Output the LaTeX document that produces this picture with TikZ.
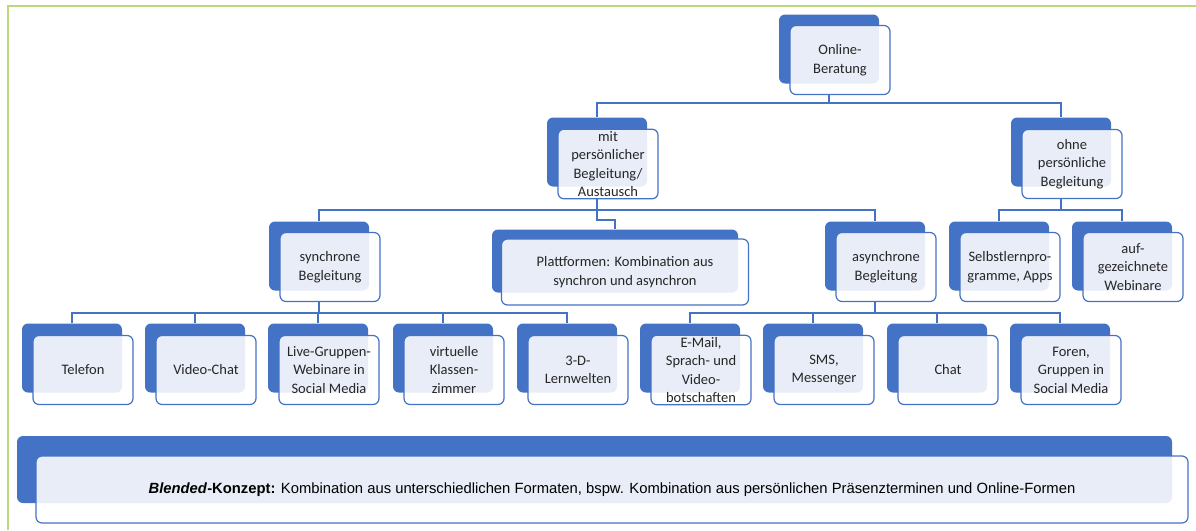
\documentclass[tikz,border=0pt]{standalone}
\usepackage{fontspec}
\setmainfont{Carlito}
\newfontfamily\blendfont{Liberation Sans}
\definecolor{orgblue}{RGB}{68,114,196}
\definecolor{framegreen}{RGB}{186,218,122}
\definecolor{orgtext}{RGB}{38,38,38}
\tikzset{
  backbox/.style={fill=orgblue, rounded corners=6pt, minimum width=100pt, minimum height=69pt, inner sep=0pt},
  frontbox/.style={draw=orgblue, line width=1.2pt, fill=white, fill opacity=0.88, text opacity=1,
    rounded corners=6pt, minimum width=100pt, minimum height=69pt, inner sep=2pt, align=center,
    text=orgtext, font=\fontsize{14.5}{18.5}\selectfont},
  link/.style={draw=orgblue, line width=1.3pt}
}
\begin{document}
\begin{tikzpicture}[x=1pt,y=-1pt]
\useasboundingbox (0,0) rectangle (1196,530);
% Frame
\draw[framegreen, line width=2.5pt] (8,530) -- (8,6) -- (1196,6);

% Level 1
\node[backbox] (ob) at (829,49) {};
\node[frontbox] (obf) at (840,60) {Online-\\Beratung};

% Level 2
\node[backbox] (mit) at (597,152) {};
\node[frontbox] (mitf) at (608,164) {mit\\persönlicher\\Begleitung/\\Austausch};
\node[backbox] (ohne) at (1061,152) {};
\node[frontbox] (ohnef) at (1072,164) {ohne\\persönliche\\Begleitung};

% Level 3
\node[backbox] (sync) at (319,256) {};
\node[frontbox] (syncf) at (330,267) {synchrone\\Begleitung};
\node[backbox, minimum width=246pt, minimum height=63pt] (platt) at (615,261) {};
\node[frontbox, minimum width=247pt, minimum height=66pt] (plattf) at (625,272) {Plattformen: Kombination aus\\synchron und asynchron};
\node[backbox] (async) at (875,256) {};
\node[frontbox] (asyncf) at (886,267) {asynchrone\\Begleitung};
\node[backbox] (selbst) at (999,256) {};
\node[frontbox] (selbstf) at (1010,267) {Selbstlernpro-\\gramme, Apps};
\node[backbox] (aufz) at (1122,256) {};
\node[frontbox] (aufzf) at (1133,267) {auf-\\gezeichnete\\Webinare};

% Level 4
\foreach \n/\x/\t in {b1/72/{Telefon}, b2/195/{Video-Chat}, b3/318/{Live-Gruppen-\\Webinare in\\Social Media},
    b4/443/{virtuelle\\Klassen-\\zimmer}, b5/567/{3-D-\\Lernwelten}, b6/690/{E-Mail,\\Sprach- und\\Video-\\botschaften},
    b7/813/{SMS,\\Messenger}, b8/937/{Chat}, b9/1060/{Foren,\\Gruppen in\\Social Media}} {
    \node[backbox] (\n) at (\x,358) {};
    \node[frontbox] (\n-f) at (\x+11,370) {\t};
}

% Blended
\node[backbox, minimum width=1155pt, minimum height=67pt] (blend) at (594.5,469.5) {};
\node[frontbox, minimum width=1152pt, minimum height=67pt, text=black,
    font=\blendfont\fontsize{14.8}{16}\selectfont] (blendf) at (612,489.5)
    {\raisebox{3pt}{\textbf{\textit{Blended}-Konzept:} Kombination aus unterschiedlichen Formaten, bspw. Kombination aus persönlichen Präsenzterminen und Online-Formen}};

% Connectors
\coordinate (hub1) at (829,103);
\coordinate (hub2) at (597,210);
\coordinate (hub2p) at (597,220);
\coordinate (hub3) at (1061,210);
\coordinate (hub4) at (319,313);
\coordinate (hub5) at (875,313);
\draw[link] (ob |- obf.south) -- (hub1);
\draw[link] (mit.north) |- (hub1) -| (ohne.north);
\draw[link] (mit |- mitf.south) -- (hub2p) -| (platt.north);
\draw[link] (sync.north) |- (hub2) -| (async.north);
\draw[link] (ohne |- ohnef.south) -- (hub3);
\draw[link] (selbst.north) |- (hub3) -| (aufz.north);
\draw[link] (sync |- syncf.south) -- (hub4);
\draw[link] (b1.north) |- (hub4) -| (b5.north);
\draw[link] (async |- asyncf.south) -- (hub5);
\draw[link] (b6.north) |- (hub5) -| (b9.north);
\foreach \n in {b2,b3,b4}
    \draw[link] (\n.north) -- (\n |- hub4);
\foreach \n in {b7,b8}
    \draw[link] (\n.north) -- (\n |- hub5);
\end{tikzpicture}
\end{document}
